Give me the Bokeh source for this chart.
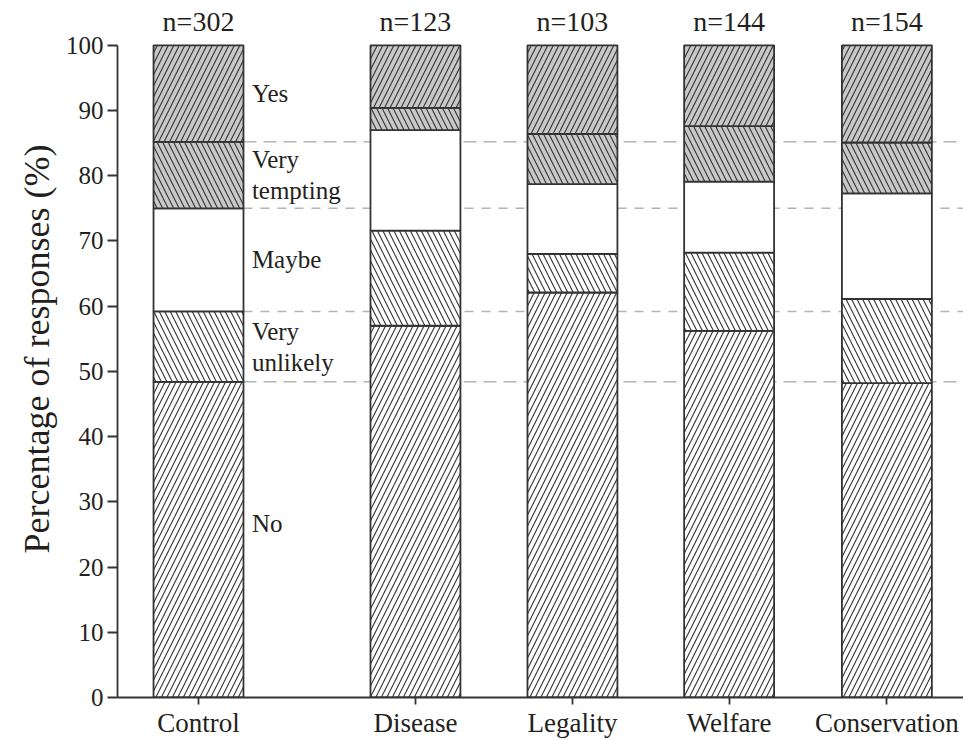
from bokeh.plotting import figure
from bokeh.models import ColumnDataSource, Range1d, FixedTicker
from bokeh.core.properties import value
from bokeh.embed import file_html
from bokeh.resources import INLINE

# ---- data ----
categories = ["Control", "Disease", "Legality", "Welfare", "Conservation"]
x_pos = [0.0, 1.382, 2.382, 3.38, 4.385]
n_labels = ["n=302", "n=123", "n=103", "n=144", "n=154"]
responses = ["No", "Very unlikely", "Maybe", "Very tempting", "Yes"]
no = [48.4, 57.0, 62.1, 56.2, 48.2]
very_unlikely = [10.8, 14.6, 5.9, 12.0, 12.9]
maybe = [15.8, 15.4, 10.7, 10.9, 16.2]
very_tempting = [10.2, 3.4, 7.7, 8.5, 7.8]
yes = [14.8, 9.6, 13.6, 12.4, 14.9]
inline_labels = ["No", "Very\nunlikely", "Maybe", "Very\ntempting", "Yes"]
y_ticks = [0, 10, 20, 30, 40, 50, 60, 70, 80, 90, 100]

FONT = "Liberation Serif"
TXT = "#231f20"
BAR_W = 0.573
X_START, X_END = -0.516, 4.873

src = ColumnDataSource(dict(x=x_pos, No=no, **{"Very unlikely": very_unlikely},
                            Maybe=maybe, **{"Very tempting": very_tempting}, Yes=yes))

p = figure(width=963, height=740, output_backend="svg", toolbar_location=None,
           x_range=Range1d(X_START, X_END), y_range=Range1d(0, 106.87),
           min_border_left=117, min_border_right=0, min_border_top=0, min_border_bottom=40)
p.outline_line_color = None
p.grid.visible = False
p.background_fill_color = "white"

# dashed reference lines at the Control bar's boundaries
cum = []
s = 0
for seg in [no, very_unlikely, maybe, very_tempting]:
    s += seg[0]
    cum.append(s)
ctrl_right = x_pos[0] + BAR_W / 2
p.segment(x0=[ctrl_right, ctrl_right], x1=[X_END, X_END], y0=[cum[0], cum[3]], y1=[cum[0], cum[3]],
          line_color="#b4b4b4", line_width=1.5, line_dash="13 7")
p.segment(x0=[ctrl_right, ctrl_right], x1=[X_END, X_END], y0=[cum[1], cum[2]], y1=[cum[1], cum[2]],
          line_color="#b4b4b4", line_width=1.5, line_dash="9 8")

fills = ["white", "white", "white", "#c8c8c8", "#c8c8c8"]
hatches = ["/", "\\", " ", "\\", "/"]
p.vbar_stack(responses, x="x", width=BAR_W, source=src,
             fill_color=fills, line_color="#333333", line_width=1.8,
             hatch_pattern=hatches, hatch_color="#333333", hatch_scale=11, hatch_weight=1.1)

# inline labels next to the Control bar (segment midpoints; "No" sits a bit higher)
mids = []
base = 0
for seg in [no, very_unlikely, maybe, very_tempting, yes]:
    mids.append(base + seg[0] / 2)
    base += seg[0]
mids[0] += 2.5
p.text(x=[x_pos[0] + 0.34] * 5, y=mids, text=inline_labels, text_font=value(FONT),
       text_font_size="25px", text_baseline="middle", text_align="left",
       text_color=TXT, text_line_height=1.15)

# n labels
p.text(x=x_pos, y=[103.6] * 5, text=n_labels, text_font=value(FONT), text_font_size="28px",
       text_baseline="middle", text_align="center", text_color=TXT)

# axes
ya = p.yaxis[0]
ya.ticker = FixedTicker(ticks=y_ticks)
ya.bounds = (0, 100)
ya.axis_label = "Percentage of responses (%)"
ya.axis_label_text_font = FONT
ya.axis_label_text_font_size = "36px"
ya.axis_label_text_font_style = "normal"
ya.axis_label_text_color = TXT
ya.axis_label_standoff = 6
ya.major_label_text_font = FONT
ya.major_label_text_font_size = "25px"
ya.major_label_text_color = TXT
ya.major_tick_out = 10
ya.major_tick_in = 0
ya.minor_tick_out = 0
ya.minor_tick_in = 0
ya.axis_line_color = "#333333"
ya.axis_line_width = 1.8
ya.major_tick_line_color = "#333333"
ya.major_tick_line_width = 1.8
ya.major_label_standoff = 4

xa = p.xaxis[0]
xa.ticker = FixedTicker(ticks=x_pos)
xa.major_label_overrides = {x: c for x, c in zip(x_pos, categories)}
xa.major_label_text_font = FONT
xa.major_label_text_font_size = "27px"
xa.major_label_text_color = TXT
xa.major_tick_out = 7
xa.major_tick_in = 0
xa.minor_tick_out = 0
xa.minor_tick_in = 0
xa.axis_line_color = "#333333"
xa.axis_line_width = 1.8
xa.major_tick_line_color = "#333333"
xa.major_tick_line_width = 1.8
xa.major_label_standoff = 3

open("out.html", "w").write(file_html(p, INLINE))
